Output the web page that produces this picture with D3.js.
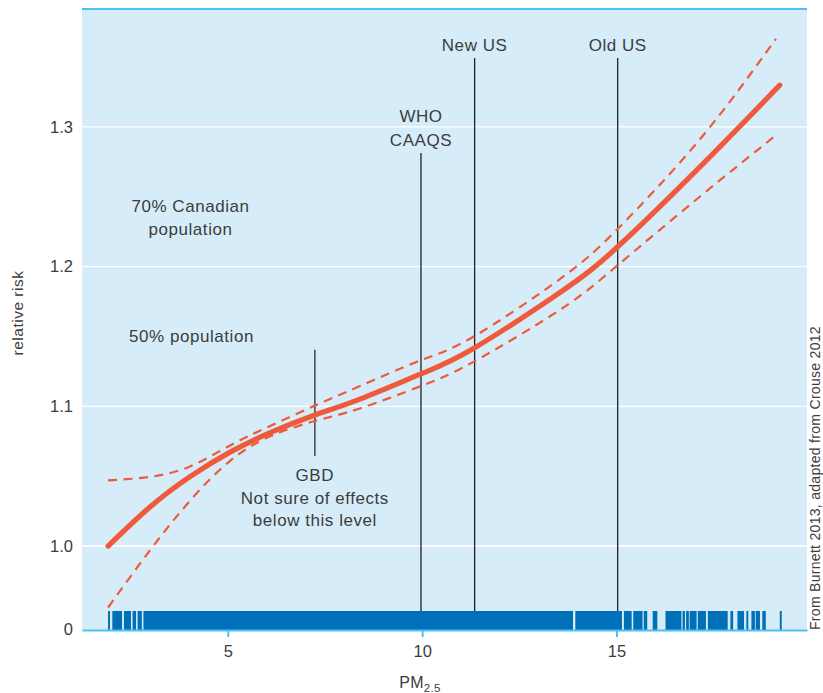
<!DOCTYPE html>
<html>
<head>
<meta charset="utf-8">
<script src="https://cdn.jsdelivr.net/npm/d3@7"></script>
<style>
  html, body { margin: 0; padding: 0; background: #ffffff; }
  svg { display: block; font-family: "Liberation Sans", Arial, sans-serif; }
</style>
</head>
<body>
<svg id="chart" width="823" height="693"></svg>
<script>
// ---- data ----
const pmValues   = [1.92, 3.0, 4.03, 5.06, 6.09, 7.24, 8.4, 9.97, 11.33, 13.54, 15.03, 17.14, 19.2];
const riskMain   = [1.000, 1.028, 1.0497, 1.0672, 1.0811, 1.0938, 1.1052, 1.1232, 1.1416, 1.1814, 1.2142, 1.2712, 1.3299];
const riskUpper  = [1.047, 1.0495, 1.057, 1.072, 1.086, 1.1005, 1.1145, 1.133, 1.150, 1.191, 1.227, 1.291, 1.363];
const riskLower  = [0.956, 0.997, 1.0325, 1.061, 1.0785, 1.0895, 1.0985, 1.1145, 1.132, 1.169, 1.201, 1.250, 1.294];
const upperEnd   = 19.1;
const lowerEnd   = 19.1;

// rug of observations (PM2.5 spans, dense regions merged)
const rugSpans = [
  [1.92, 1.97], [2.03, 2.28], [2.33, 2.51], [2.55, 2.64], [2.68, 2.79],
  [2.83, 13.88], [13.94, 15.14], [15.19, 15.39], [15.43, 15.67], [15.70, 15.79],
  [15.93, 16.05], [16.26, 16.67], [16.70, 16.76], [16.79, 16.86], [16.88, 17.06],
  [17.09, 17.30], [17.35, 17.86], [17.93, 18.00], [18.11, 18.28], [18.34, 18.39],
  [18.47, 18.56], [18.58, 18.69], [18.75, 18.84], [19.20, 19.25]
];

// reference standards
const standards = [
  { name: ["New US"], pm: 11.35, top: 1.3493 },
  { name: ["Old US"], pm: 15.03, top: 1.3493 },
  { name: ["WHO", "CAAQS"], pm: 9.97, top: 1.2813 }
];
const gbd = { pm: 7.24, top: 1.1405, bottom: 1.0644, label: ["GBD", "Not sure of effects", "below this level"] };

const xTicks = [5, 10, 15];
const yTicks = [1.0, 1.1, 1.2, 1.3];
const yTickLabels = ["1.0", "1.1", "1.2", "1.3"];
const zeroLabel = "0";

// ---- layout ----
const svg = d3.select("#chart");
const margin = { left: 82, right: 16, top: 9, bottom: 63 };
const W = 823, H = 693;
const x = d3.scaleLinear().domain([1.25, 19.9]).range([margin.left, W - margin.right]);
const y = d3.scaleLinear().domain([0.9399, 1.3844]).range([H - margin.bottom, margin.top]);
const rugTop = y(0.9399) - 19;

const red = "#ef5a3c";
const axisBlue = "#4cc2ee";
const textCol = "#3c3c3c";
const annSize = 17, annSpacing = "0.55px";

// background
svg.append("rect")
  .attr("x", x.range()[0]).attr("y", margin.top)
  .attr("width", x.range()[1] - x.range()[0])
  .attr("height", y.range()[0] - margin.top)
  .attr("fill", "#d6edf9");

// gridlines
svg.append("g").selectAll("line").data(yTicks).join("line")
  .attr("x1", x.range()[0]).attr("x2", x.range()[1])
  .attr("y1", d => y(d)).attr("y2", d => y(d))
  .attr("stroke", "#ffffff").attr("stroke-width", 1.4);

// top border
svg.append("line")
  .attr("x1", x.range()[0]).attr("x2", x.range()[1])
  .attr("y1", margin.top).attr("y2", margin.top)
  .attr("stroke", axisBlue).attr("stroke-width", 2);

// rug
svg.append("g").selectAll("rect").data(rugSpans).join("rect")
  .attr("x", d => x(d[0]))
  .attr("width", d => Math.max(1, x(d[1]) - x(d[0])))
  .attr("y", rugTop)
  .attr("height", y.range()[0] - rugTop)
  .attr("fill", "#0070b8");

// standards lines
svg.append("g").selectAll("line").data(standards).join("line")
  .attr("x1", d => x(d.pm)).attr("x2", d => x(d.pm))
  .attr("y1", d => y(d.top)).attr("y2", rugTop)
  .attr("stroke", "#222").attr("stroke-width", 1.3);

svg.append("line")
  .attr("x1", x(gbd.pm)).attr("x2", x(gbd.pm))
  .attr("y1", y(gbd.top)).attr("y2", y(gbd.bottom))
  .attr("stroke", "#444").attr("stroke-width", 1.5);

// curves
const line = d3.line().curve(d3.curveNatural);
const mk = (vals) => pmValues.map((p, i) => [x(p), y(vals[i])]);
const upperPts = mk(riskUpper); upperPts[upperPts.length - 1][0] = x(upperEnd);
const lowerPts = mk(riskLower); lowerPts[lowerPts.length - 1][0] = x(lowerEnd);

svg.append("path").attr("d", line(upperPts))
  .attr("fill", "none").attr("stroke", red).attr("stroke-width", 2.2)
  .attr("stroke-dasharray", "9,6.5");
svg.append("path").attr("d", line(lowerPts))
  .attr("fill", "none").attr("stroke", red).attr("stroke-width", 2.2)
  .attr("stroke-dasharray", "9,6.5");
svg.append("path").attr("d", line(mk(riskMain)))
  .attr("fill", "none").attr("stroke", red).attr("stroke-width", 5.2)
  .attr("stroke-linecap", "round");

// bottom axis
const xAxis = svg.append("g").attr("transform", `translate(0,${y.range()[0]})`)
  .call(d3.axisBottom(x).tickValues(xTicks).tickSize(7).tickSizeOuter(0).tickFormat(d3.format("d")));
xAxis.select(".domain").attr("stroke", axisBlue).attr("stroke-width", 2);
xAxis.selectAll(".tick line").attr("stroke", axisBlue).attr("stroke-width", 2);
xAxis.selectAll(".tick text").attr("fill", textCol).attr("font-size", 16.5)
  .attr("font-family", "Liberation Sans, Arial, sans-serif").attr("dy", "1.05em");

// left axis labels
const yAxis = svg.append("g").attr("transform", `translate(${x.range()[0]},0)`)
  .call(d3.axisLeft(y).tickValues(yTicks).tickSize(0).tickFormat((d, i) => yTickLabels[i]));
yAxis.select(".domain").remove();
yAxis.selectAll(".tick text").attr("fill", textCol).attr("font-size", 16.5)
  .attr("font-family", "Liberation Sans, Arial, sans-serif").attr("x", -9);
svg.append("text").attr("x", x.range()[0] - 9).attr("y", y.range()[0])
  .attr("dy", "0.32em").attr("text-anchor", "end")
  .attr("fill", textCol).attr("font-size", 16.5).text(zeroLabel);

// axis titles
svg.append("text").attr("transform", `translate(23,313) rotate(-90)`)
  .attr("text-anchor", "middle").attr("fill", textCol).attr("font-size", 15.5)
  .attr("letter-spacing", "0.5px")
  .text("relative risk");
const pmT = svg.append("text").attr("x", 420).attr("y", 688)
  .attr("text-anchor", "middle").attr("fill", textCol).attr("font-size", 16)
  .attr("letter-spacing", "0.3px");
pmT.append("tspan").text("PM");
pmT.append("tspan").attr("font-size", 11.5).attr("dy", 4).text("2.5");

// source
svg.append("text").attr("transform", `translate(819.5,630) rotate(-90)`)
  .attr("text-anchor", "start").attr("fill", textCol).attr("font-size", 14)
  .attr("letter-spacing", "0.3px")
  .text("From Burnett 2013, adapted from Crouse 2012");

// standard labels
standards.forEach(s => {
  const n = s.name.length;
  s.name.forEach((t, i) => {
    svg.append("text")
      .attr("x", x(s.pm))
      .attr("y", y(s.top) - 7.5 - (n - 1 - i) * 23.3)
      .attr("text-anchor", "middle").attr("fill", textCol)
      .attr("font-size", annSize).attr("letter-spacing", annSpacing)
      .text(t);
  });
});
gbd.label.forEach((t, i) => {
  svg.append("text").attr("x", x(gbd.pm)).attr("y", y(gbd.bottom) + 25 + i * 22.5)
    .attr("text-anchor", "middle").attr("fill", textCol)
    .attr("font-size", annSize).attr("letter-spacing", annSpacing).text(t);
});

// population annotations
[["70% Canadian", 190.5, 212], ["population", 190.5, 235], ["50% population", 191.5, 341.5]].forEach(([t, tx, ty]) => {
  svg.append("text").attr("x", tx).attr("y", ty).attr("text-anchor", "middle")
    .attr("fill", textCol).attr("font-size", annSize).attr("letter-spacing", annSpacing).text(t);
});
</script>
</body>
</html>
